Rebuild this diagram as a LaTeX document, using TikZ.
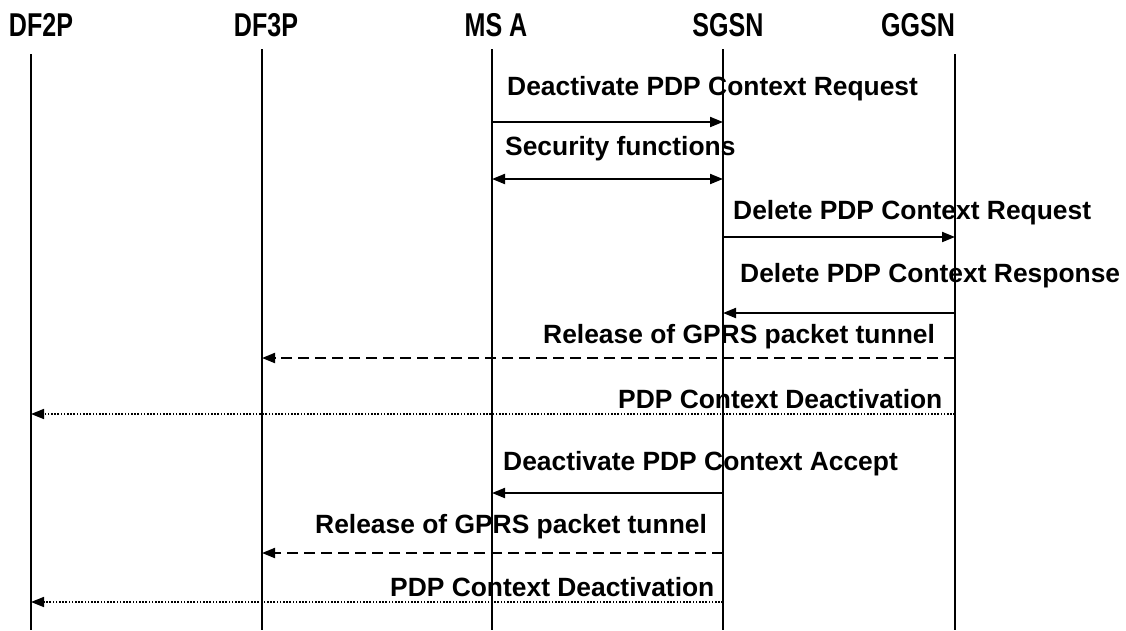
\documentclass[tikz,border=0pt]{standalone}
\usepackage{fontspec}
\usepackage{graphicx}
\setmainfont{Liberation Sans}
\usetikzlibrary{arrows.meta}
\tikzset{
  x=1pt, y=-1pt,
  head/.style={font=\fontsize{33}{36}\selectfont\bfseries, inner sep=0pt, anchor=base},
  lbl/.style={font=\fontsize{26.4}{30}\selectfont\bfseries, inner sep=0pt, anchor=base west},
  life/.style={line width=2pt},
  tip/.tip={Triangle[length=13pt,width=10pt]},
  msg/.style={line width=2pt, -tip},
  bimsg/.style={line width=2pt, tip-tip},
  dashmsg/.style={line width=2pt, -tip, dash pattern=on 11pt off 6pt},
  dotmsg/.style={line width=1.6pt, -tip, dash pattern=on 1.6pt off 1.6pt}
}
\begin{document}
\begin{tikzpicture}
\useasboundingbox (0,0) rectangle (1126,630);
\fill[white] (0,0) rectangle (1126,630);

% headers
\node[head] (hdf2) at (41,36) {\scalebox{0.76}[1]{DF2P}};
\node[head] (hdf3) at (266,36) {\scalebox{0.76}[1]{DF3P}};
\node[head] (hms)  at (496,36) {\scalebox{0.76}[1]{MS A}};
\node[head] (hsg)  at (728,36) {\scalebox{0.76}[1]{SGSN}};
\node[head] (hgg)  at (918,36) {\scalebox{0.76}[1]{GGSN}};

% lifelines
\coordinate (df2t) at (31,54);   \coordinate (df2b) at (31,630);
\coordinate (df3t) at (262,49);  \coordinate (df3b) at (262,630);
\coordinate (mst)  at (492,49);  \coordinate (msb)  at (492,630);
\coordinate (sgt)  at (723,49);  \coordinate (sgb)  at (723,630);
\coordinate (ggt)  at (955,54);  \coordinate (ggb)  at (955,630);
\draw[life] (df2t) -- (df2b);
\draw[life] (df3t) -- (df3b);
\draw[life] (mst) -- (msb);
\draw[life] (sgt) -- (sgb);
\draw[life] (ggt) -- (ggb);

% message 1
\node[lbl] (t1) at (507,95) {Deactivate PDP Context Request};
\coordinate (m1a) at (492,122); \coordinate (m1b) at (723,122);
\draw[msg] (m1a) -- (m1b);
% message 2
\node[lbl] (t2) at (505,155) {Security functions};
\coordinate (m2a) at (492,179); \coordinate (m2b) at (723,179);
\draw[bimsg] (m2a) -- (m2b);
% message 3
\node[lbl] (t3) at (733,219) {Delete PDP Context Request};
\coordinate (m3a) at (723,237); \coordinate (m3b) at (955,237);
\draw[msg] (m3a) -- (m3b);
% message 4
\node[lbl] (t4) at (740,282) {Delete PDP Context Response};
\coordinate (m4a) at (955,313); \coordinate (m4b) at (723,313);
\draw[msg] (m4a) -- (m4b);
% message 5
\node[lbl] (t5) at (543,343) {Release of GPRS packet tunnel};
\coordinate (m5a) at (955,358); \coordinate (m5b) at (262,358);
\draw[dashmsg] (m5a) -- (m5b);
% message 6
\node[lbl] (t6) at (618,408) {PDP Context Deactivation};
\coordinate (m6a) at (955,414); \coordinate (m6b) at (31,414);
\draw[dotmsg] (m6a) -- (m6b);
% message 7
\node[lbl] (t7) at (503,470) {Deactivate PDP Context Accept};
\coordinate (m7a) at (723,493); \coordinate (m7b) at (492,493);
\draw[msg] (m7a) -- (m7b);
% message 8
\node[lbl] (t8) at (315,533) {Release of GPRS packet tunnel};
\coordinate (m8a) at (723,553); \coordinate (m8b) at (262,553);
\draw[dashmsg] (m8a) -- (m8b);
% message 9
\node[lbl] (t9) at (390,596) {PDP Context Deactivation};
\coordinate (m9a) at (723,602); \coordinate (m9b) at (31,602);
\draw[dotmsg] (m9a) -- (m9b);
\end{tikzpicture}
\end{document}
